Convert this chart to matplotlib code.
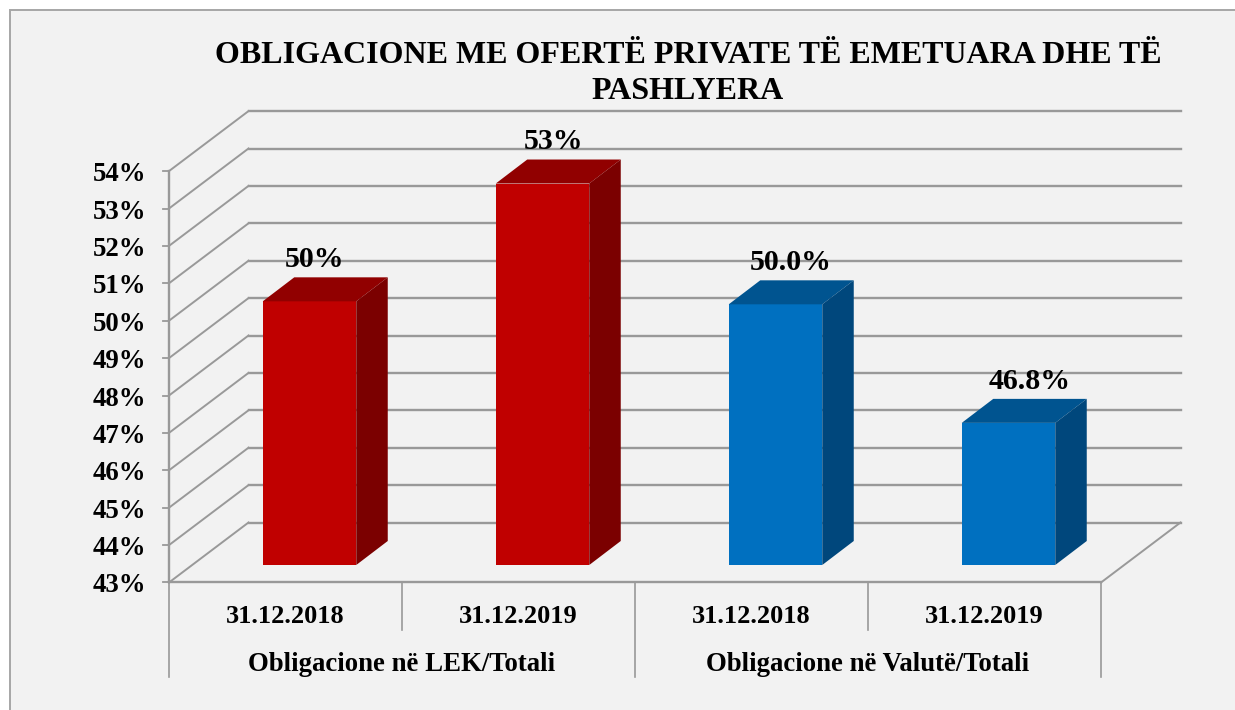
import matplotlib.pyplot as plt
from matplotlib.patches import Rectangle

plt.rcParams['font.family'] = ['Liberation Serif', 'DejaVu Serif']
plt.rcParams['font.weight'] = 'bold'

title = "OBLIGACIONE ME OFERTË PRIVATE TË EMETUARA DHE TË\nPASHLYERA"
y_ticks = [43, 44, 45, 46, 47, 48, 49, 50, 51, 52, 53, 54]
dates = ["31.12.2018", "31.12.2019", "31.12.2018", "31.12.2019"]
groups = ["Obligacione në LEK/Totali", "Obligacione në Valutë/Totali"]
values = [50.05, 53.2, 49.97, 46.8]
value_labels = ["50%", "53%", "50.0%", "46.8%"]

FRONT_COLORS = ["#c00000", "#c00000", "#0070c0", "#0070c0"]
TOP_COLORS = ["#910000", "#910000", "#005490", "#005490"]
SIDE_COLORS = ["#7b0000", "#7b0000", "#00477c", "#00477c"]
GRID = "#999999"

# picture geometry: one category and one percent in pixels
PX_X = 233.0
PX_Y = 37.4
X0 = 169.0
Y0 = 582.5
W, H = 1235, 710

# oblique depth of the 3d box, in data units
DEPTH_X = 79.5 / PX_X
DEPTH_Y = 60.0 / PX_Y
# bars stand inside the floor and are not as deep as it
FLOOR_X = 24.0 / PX_X
FLOOR_Y = 17.5 / PX_Y
BAR_W = 93.5 / PX_X
BAR_DX = 31.5 / PX_X
BAR_DY = 24.0 / PX_Y
# data labels are not quite centred over the bars
LABEL_SHIFT = [-8 / PX_X, -2 / PX_X, 2 / PX_X, 8 / PX_X]


def data_x(px):
    return (px - X0) / PX_X


def data_y(py):
    return y_ticks[0] + (Y0 - py) / PX_Y


def draw_walls(ax):
    n = len(dates)
    low = y_ticks[0]
    for t in y_ticks:
        ax.plot([0, DEPTH_X], [t, t + DEPTH_Y], color=GRID, lw=1.4, zorder=1)
        ax.plot([DEPTH_X, n + DEPTH_X], [t + DEPTH_Y, t + DEPTH_Y], color=GRID, lw=1.7, zorder=1)
        ax.plot([data_x(163), 0], [t, t], color=GRID, lw=1.3, zorder=1)
    ax.plot([0, 0], [low, y_ticks[-1]], color=GRID, lw=1.7, zorder=1)
    ax.plot([0, n], [low, low], color=GRID, lw=1.7, zorder=1)
    ax.plot([n, n + DEPTH_X], [low, low + DEPTH_Y], color=GRID, lw=1.4, zorder=1)


def draw_bars(ax):
    base = y_ticks[0] + FLOOR_Y
    for i, v in enumerate(values):
        left = i + 0.5 + FLOOR_X - BAR_W / 2
        right = left + BAR_W
        top = v + FLOOR_Y
        ax.bar(left, v - y_ticks[0], BAR_W, bottom=base, align='edge', color=FRONT_COLORS[i], zorder=3)
        ax.fill([left, right, right + BAR_DX, left + BAR_DX], [top, top, top + BAR_DY, top + BAR_DY],
                color=TOP_COLORS[i], lw=0, zorder=3)
        ax.fill([right, right + BAR_DX, right + BAR_DX, right], [base, base + BAR_DY, top + BAR_DY, top],
                color=SIDE_COLORS[i], lw=0, zorder=3)
        ax.text(left + BAR_W / 2 + BAR_DX / 2 - 0.01 + LABEL_SHIFT[i], top + BAR_DY + 0.47, value_labels[i],
                ha='center', va='center', fontsize=21.5, zorder=4)


def draw_labels(ax):
    for t in y_ticks:
        ax.text(data_x(146), t - 3.5 / PX_Y, "%d%%" % t, ha='right', va='center', fontsize=19.3)
    low = y_ticks[0]
    for i, d in enumerate(dates):
        ax.text(i + 0.5, data_y(616), d, ha='center', va='center', fontsize=19)
    for i, g in enumerate(groups):
        ax.text(2 * i + 1, data_y(664), g, ha='center', va='center', fontsize=19.3)
    for i in range(len(dates) + 1):
        bottom = 677 if i % 2 == 0 else 630
        ax.plot([i, i], [low, data_y(bottom)], color=GRID, lw=1.2, zorder=1)


def main():
    fig = plt.figure(figsize=(W / 100, H / 100), dpi=100, facecolor="white")
    ax = fig.add_axes([0, 0, 1, 1])
    ax.set_xlim(data_x(0), data_x(W))
    ax.set_ylim(data_y(H), data_y(0))
    ax.axis('off')

    ax.add_patch(Rectangle((10 / W, -0.1), 1.1, 1 - 10 / H + 0.1, transform=ax.transAxes,
                           facecolor="#f2f2f2", edgecolor="#a6a6a6", lw=1.4, zorder=0))

    draw_walls(ax)
    draw_bars(ax)
    draw_labels(ax)

    ax.text(data_x(688), data_y(73.5), title, ha='center', va='center', fontsize=23,
            linespacing=1.3)

    fig.savefig("out.png", dpi=100, facecolor="white")


if __name__ == "__main__":
    main()
